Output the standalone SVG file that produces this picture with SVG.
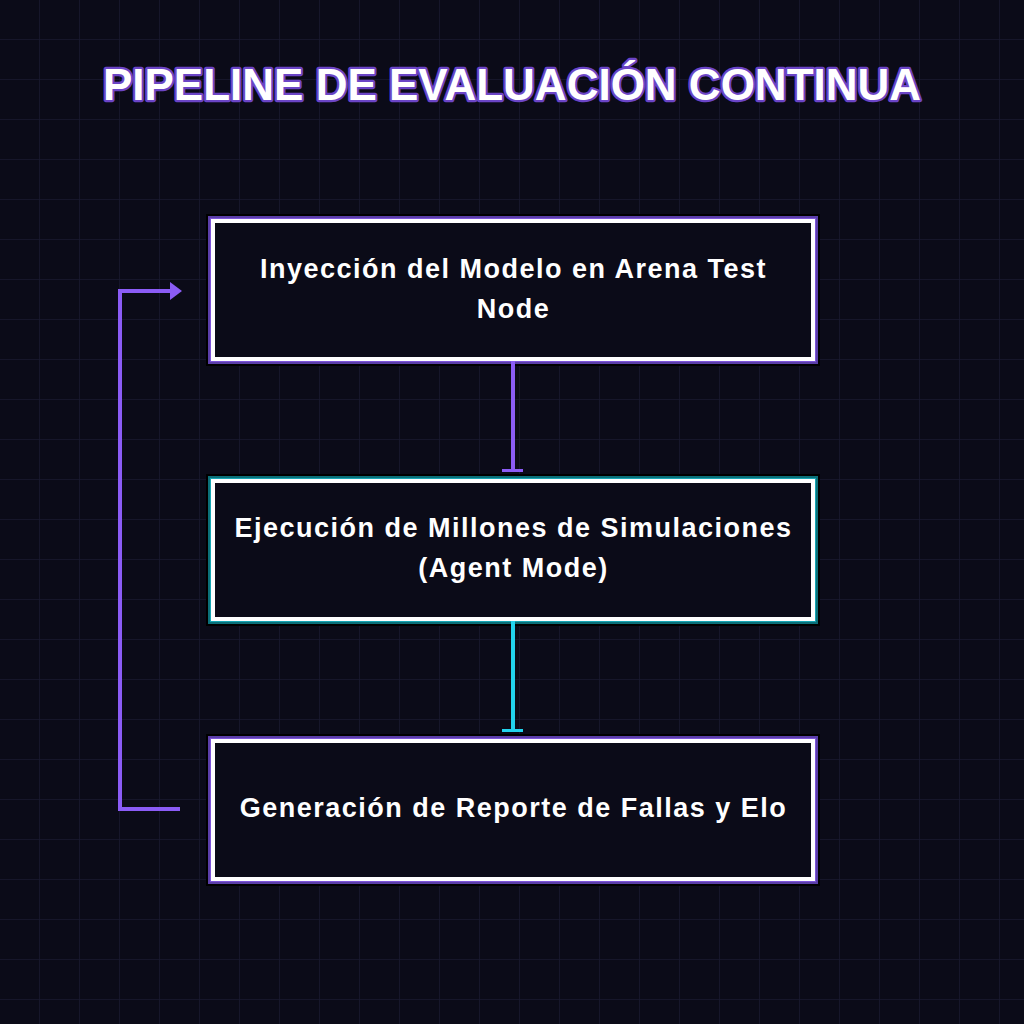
<svg xmlns="http://www.w3.org/2000/svg" width="1024" height="1024" viewBox="0 0 1024 1024">
<defs>
<pattern id="grid" width="40" height="40" patternUnits="userSpaceOnUse">
<path d="M40 0V40M0 40H40" fill="none" stroke="#191930" stroke-width="1.5"/>
</pattern>
<style>
.title{font-family:"Liberation Sans",Arial,sans-serif;font-weight:bold;font-size:44px;fill:#ffffff;stroke:#6b45c6;stroke-width:4.5;paint-order:stroke;stroke-linejoin:round}
.shadow{fill:none;stroke:#000000;stroke-width:14}
.glowP{fill:none;stroke:#5b3ea8;stroke-width:10}
.glowP2{fill:none;stroke:#7c54d8;stroke-width:6}
.glowC{fill:none;stroke:#0b6f78;stroke-width:10}
.glowC2{fill:none;stroke:#16a5b3;stroke-width:6}
.box{fill:#0b0b18;stroke:#ffffff;stroke-width:4}
.label{font-family:"Liberation Sans",Arial,sans-serif;font-weight:bold;font-size:27px;letter-spacing:1.5px;fill:#ffffff;text-anchor:middle}
.conn{fill:none;stroke-width:4}
</style>
</defs>
<rect width="1024" height="1024" fill="#0b0b18"/>
<rect width="1024" height="1024" fill="url(#grid)"/>
<text class="title" x="512" y="100" text-anchor="middle">PIPELINE DE EVALUACIÓN CONTINUA</text>
<g id="node1">
<rect class="shadow" x="213" y="221" width="600" height="138"/>
<rect class="glowP" x="213" y="221" width="600" height="138"/>
<rect class="glowP2" x="213" y="221" width="600" height="138"/>
<rect class="box" x="213" y="221" width="600" height="138"/>
<text class="label" x="513.5" y="278">Inyección del Modelo en Arena Test</text>
<text class="label" x="513.5" y="318">Node</text>
</g>
<g id="node2">
<rect class="shadow" x="213" y="481" width="600" height="138"/>
<rect class="glowC" x="213" y="481" width="600" height="138"/>
<rect class="glowC2" x="213" y="481" width="600" height="138"/>
<rect class="box" x="213" y="481" width="600" height="138"/>
<text class="label" x="513.5" y="537">Ejecución de Millones de Simulaciones</text>
<text class="label" x="513.5" y="577">(Agent Mode)</text>
</g>
<g id="node3">
<rect class="shadow" x="213" y="741" width="600" height="138"/>
<rect class="glowP" x="213" y="741" width="600" height="138"/>
<rect class="glowP2" x="213" y="741" width="600" height="138"/>
<rect class="box" x="213" y="741" width="600" height="138"/>
<text class="label" x="513.5" y="817">Generación de Reporte de Fallas y Elo</text>
</g>
<g id="connectors">
<line class="conn" x1="513" y1="361" x2="513" y2="470" stroke="#8b5cf6"/>
<rect x="502" y="469" width="21" height="3" fill="#8b5cf6"/>
<line class="conn" x1="513" y1="621" x2="513" y2="730" stroke="#22d3ee"/>
<rect x="502" y="729" width="21" height="3" fill="#22d3ee"/>
<polyline class="conn" points="180,809 120,809 120,291 172,291" stroke="#8b5cf6"/>
<path d="M170 282L182 291L170 300Z" fill="#8b5cf6"/>
</g>
</svg>
